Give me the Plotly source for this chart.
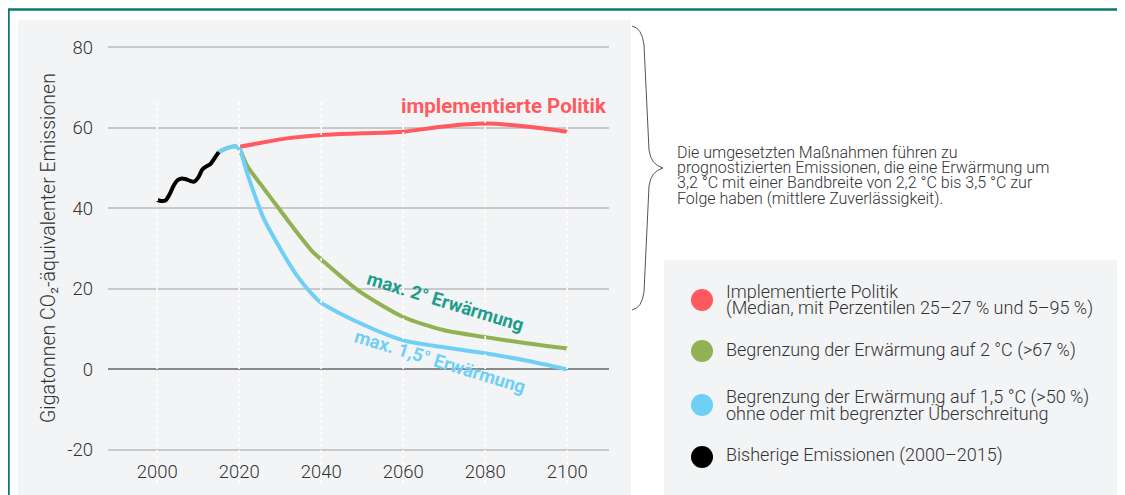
import plotly.graph_objects as go

# ---------------- data ----------------
hist_years = list(range(2000, 2016))
hist_vals = [42.1, 41.8, 41.9, 43.4, 45.6, 47.0, 47.4, 47.2, 46.8, 46.6, 47.6, 49.6, 50.4, 51.0, 52.4, 53.9]

policy_years = [2020, 2025, 2032, 2040, 2050, 2060, 2070, 2080, 2090, 2100]
policy_vals = [55.2, 56.2, 57.4, 58.2, 58.6, 59.0, 60.3, 61.0, 60.3, 59.0]

two_years = [2015, 2017, 2019, 2020, 2022, 2026, 2030, 2034, 2038, 2040, 2049, 2060, 2070, 2080, 2090, 2100]
two_vals = [53.9, 54.9, 55.4, 54.8, 50.4, 44.9, 39.5, 34.1, 29.1, 27.3, 19.6, 13.0, 9.7, 8.0, 6.5, 5.2]

one5_years = [2015, 2017, 2019, 2020, 2022, 2026, 2030, 2034, 2038, 2040, 2049, 2060, 2070, 2080, 2090, 2100]
one5_vals = [53.9, 54.9, 55.4, 54.8, 48.5, 37.4, 30.0, 23.4, 18.4, 16.5, 11.7, 7.2, 5.5, 4.0, 2.2, 0.0]

x_ticks = [2000, 2020, 2040, 2060, 2080, 2100]
y_ticks = [-20, 0, 20, 40, 60, 80]
y_ticktext = ["-20", "0", "20", "40", "60", "80"]

legend_labels = [
    ["Implementierte Politik", "(Median, mit Perzentilen 25–27 % und 5–95 %)"],
    ["Begrenzung der Erwärmung auf 2 °C (>67 %)"],
    ["Begrenzung der Erwärmung auf 1,5 °C (>50 %)", "ohne oder mit begrenzter Überschreitung"],
    ["Bisherige Emissionen (2000–2015)"],
]
note_lines = [
    "Die umgesetzten Maßnahmen führen zu",
    "prognostizierten Emissionen, die eine Erwärmung um",
    "3,2 °C mit einer Bandbreite von 2,2 °C bis 3,5 °C zur",
    "Folge haben (mittlere Zuverlässigkeit).",
]

RED = "#ff5a5f"
GREEN = "#92b152"
BLUE = "#6fd0f6"
BLACK = "#000000"
TEAL = "#1d9d8c"
TXT = "#333333"
FONT = "Roboto"

# ---------------- geometry helpers ----------------
OFF = 8  # page body margin
W, H = 1117, 487
L, R, T, B = 100, 516, 31, 39
PW, PH = W - L - R, H - T - B


def px(x):
    return (x - OFF - L) / PW


def py(y):
    return 1 - (y - OFF - T) / PH


fig = go.Figure()

fig.add_trace(go.Scatter(x=policy_years, y=policy_vals, mode="lines",
                         line=dict(color=RED, width=4, shape="spline", smoothing=0.8),
                         hoverinfo="x+y", showlegend=False))
fig.add_trace(go.Scatter(x=two_years, y=two_vals, mode="lines",
                         line=dict(color=GREEN, width=4, shape="spline", smoothing=0.7),
                         hoverinfo="x+y", showlegend=False))
fig.add_trace(go.Scatter(x=one5_years, y=one5_vals, mode="lines",
                         line=dict(color=BLUE, width=4, shape="spline", smoothing=0.7),
                         hoverinfo="x+y", showlegend=False))
fig.add_trace(go.Scatter(x=hist_years, y=hist_vals, mode="lines",
                         line=dict(color=BLACK, width=4, shape="spline", smoothing=0.8),
                         hoverinfo="x+y", showlegend=False))

shapes = []
# grey panel
shapes.append(dict(type="rect", xref="paper", yref="paper", x0=px(18), x1=px(631), y0=py(520), y1=py(20),
                   fillcolor="#f3f4f6", line=dict(width=0), layer="below"))
# legend panel
shapes.append(dict(type="rect", xref="paper", yref="paper", x0=px(664), x1=px(1119), y0=py(520), y1=py(260),
                   fillcolor="#f3f4f6", line=dict(width=0), layer="below"))
# teal frame
shapes.append(dict(type="rect", xref="paper", yref="paper", x0=px(8.5), x1=px(1140), y0=py(540), y1=py(9.5),
                   fillcolor="rgba(0,0,0,0)", line=dict(color="#0a7a6e", width=2.5), layer="below"))
# vertical dotted lines
for xv in x_ticks:
    shapes.append(dict(type="line", xref="x", yref="paper", x0=xv, x1=xv, y0=py(483), y1=py(100),
                       line=dict(color="white", width=1.6, dash="dot"), layer="above"))
# curly brace
pts = [(632, 26), (642, 28), (644, 45), (649, 150), (651, 165), (663, 168), (651, 171), (649, 186),
       (644, 292), (642, 308), (632, 310)]
c = [(px(a), py(b)) for a, b in pts]
path = (f"M {c[0][0]},{c[0][1]} Q {c[1][0]},{c[1][1]} {c[2][0]},{c[2][1]} "
        f"L {c[3][0]},{c[3][1]} Q {c[4][0]},{c[4][1]} {c[5][0]},{c[5][1]} "
        f"Q {c[6][0]},{c[6][1]} {c[7][0]},{c[7][1]} L {c[8][0]},{c[8][1]} "
        f"Q {c[9][0]},{c[9][1]} {c[10][0]},{c[10][1]}")
shapes.append(dict(type="path", xref="paper", yref="paper", path=path,
                   line=dict(color="#555555", width=1), layer="above"))

# legend dots
dot_y = [300, 351, 405, 457]
dot_cols = [RED, GREEN, BLUE, BLACK]
for yy, col in zip(dot_y, dot_cols):
    shapes.append(dict(type="circle", xref="paper", yref="paper", x0=px(691), x1=px(713),
                       y0=py(yy + 11), y1=py(yy - 11), fillcolor=col, line=dict(width=0), layer="above"))

annotations = []
# y-axis title
annotations.append(dict(text="Gigatonnen CO₂-äquivalenter Emissionen", xref="paper", yref="paper",
                        x=px(48), y=py(248), xanchor="center", yanchor="middle", textangle=-90,
                        showarrow=False, font=dict(family=FONT, size=19.5, color=TXT, weight=300)))
# series labels
annotations.append(dict(text="<b>implementierte Politik</b>", x=2084.5, y=65.4, showarrow=False,
                        xanchor="center", font=dict(family=FONT, size=20.5, color=RED)))
annotations.append(dict(text="<b>max. 2° Erwärmung</b>", x=2070.2, y=16.7, textangle=17, showarrow=False,
                        xanchor="center", font=dict(family=FONT, size=18.5, color=TEAL)))
annotations.append(dict(text="<b>max. 1,5° Erwärmung</b>", x=2069, y=1.8, textangle=17, showarrow=False,
                        xanchor="center", font=dict(family=FONT, size=18.5, color=BLUE)))
# note text
for i, line in enumerate(note_lines):
    annotations.append(dict(text=line, xref="paper", yref="paper", x=px(675), y=py(152 + i * 15.4),
                            xanchor="left", yanchor="middle", showarrow=False,
                            font=dict(family=FONT, size=16, color=TXT, weight=300)))
# legend text
leg_y = [[291, 308], [350], [397, 413], [455]]
for lines, ys in zip(legend_labels, leg_y):
    for line, yy in zip(lines, ys):
        annotations.append(dict(text=line, xref="paper", yref="paper", x=px(724), y=py(yy),
                                xanchor="left", yanchor="middle", showarrow=False,
                                font=dict(family=FONT, size=18, color=TXT, weight=300)))

fig.update_layout(
    width=W, height=H,
    margin=dict(l=L, r=R, t=T, b=B),
    paper_bgcolor="white",
    plot_bgcolor="rgba(0,0,0,0)",
    showlegend=False,
    shapes=shapes,
    annotations=annotations,
    font=dict(family=FONT, color=TXT),
    xaxis=dict(range=[1988, 2110.2], tickvals=x_ticks, showgrid=False, zeroline=False,
               showline=False, ticks="", tickfont=dict(family=FONT, size=18.5, color=TXT, weight=300),
               ticklabelstandoff=2),
    yaxis=dict(range=[-21.5, 82], tickvals=y_ticks, ticktext=y_ticktext, showgrid=True,
               gridcolor="#c9c9c9", gridwidth=1.5,
               zeroline=True, zerolinecolor="#8a8a8a", zerolinewidth=1.5, showline=False, ticks="",
               tickfont=dict(family=FONT, size=18.5, color=TXT, weight=300), ticklabelstandoff=14),
)

fig.write_html("out.html")
